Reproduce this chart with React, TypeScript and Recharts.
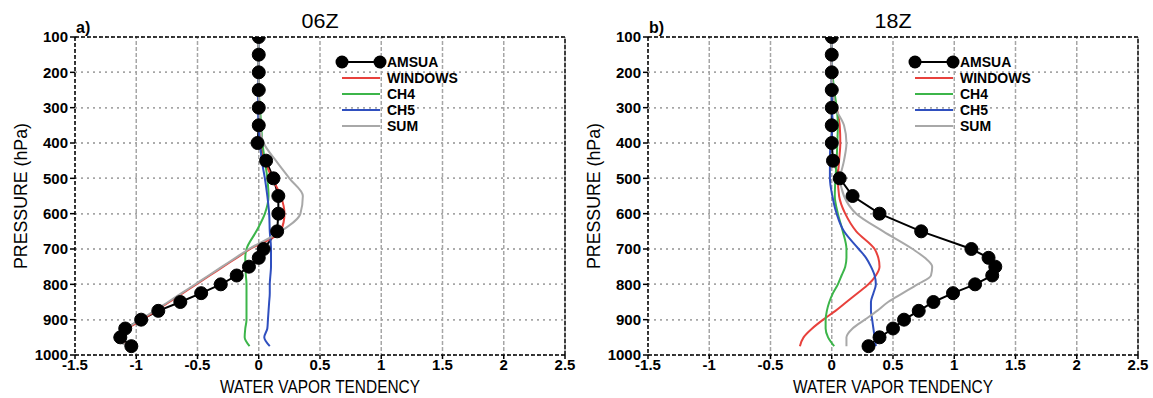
import React from 'react';
import { LineChart, Line, XAxis, YAxis, ReferenceLine, CartesianGrid } from 'recharts';

// Pressure levels (hPa)
const LEVELS = [100, 150, 200, 250, 300, 350, 400, 450, 500, 550, 600, 650, 700, 725, 750, 775, 800, 825, 850, 875, 900, 925, 950, 975];

// Panel a) 06Z
const AMSUA_06 = [0, 0, 0, 0, 0, 0, -0.01, 0.06, 0.12, 0.16, 0.16, 0.15, 0.04, 0.0, -0.08, -0.18, -0.31, -0.47, -0.64, -0.82, -0.96, -1.09, -1.13, -1.04];
const WINDOWS_06 = [0, 0, 0, 0, 0.005, 0.01, 0.02, 0.05, 0.11, 0.18, 0.21, 0.18, -0.07, -0.18, -0.29, -0.4, -0.51, -0.62, -0.73, -0.84, -0.95, -1.07, -1.15, -1.06];
const CH4_06 = [0, 0, 0, 0, 0.01, 0.02, 0.03, 0.05, 0.07, 0.08, 0.05, -0.02, -0.1, -0.11, -0.11, -0.105, -0.1, -0.1, -0.1, -0.1, -0.1, -0.11, -0.115, -0.075];
const CH5_06 = [0, 0, 0, -0.005, -0.005, 0, 0.01, 0.025, 0.05, 0.07, 0.085, 0.09, 0.1, 0.1, 0.1, 0.095, 0.09, 0.09, 0.085, 0.08, 0.075, 0.07, 0.045, 0.09];
const SUM_06 = [0, 0, 0, 0, 0.005, 0.01, 0.04, 0.14, 0.25, 0.36, 0.34, 0.18, -0.08, -0.19, -0.3, -0.41, -0.52, -0.63, -0.74, -0.85, -0.97, -1.08, -1.18, -1.06];

// Panel b) 18Z
const AMSUA_18 = [0, 0, 0, 0, 0, 0, 0, 0.01, 0.065, 0.17, 0.39, 0.73, 1.14, 1.28, 1.335, 1.31, 1.17, 0.99, 0.83, 0.71, 0.59, 0.5, 0.39, 0.3];
const WINDOWS_18 = [0, 0, 0, 0.01, 0.04, 0.065, 0.07, 0.06, 0.05, 0.06, 0.11, 0.2, 0.35, 0.38, 0.39, 0.36, 0.3, 0.21, 0.12, 0.03, -0.07, -0.16, -0.23, -0.26];
const CH4_18 = [0, 0, 0.005, 0.02, 0.04, 0.05, 0.045, 0.04, 0.03, 0.025, 0.05, 0.09, 0.12, 0.12, 0.11, 0.08, 0.05, 0.01, -0.02, -0.04, -0.05, -0.05, -0.03, 0.02];
const CH5_18 = [0, 0, 0, 0, 0, 0.01, -0.01, -0.015, -0.015, 0.005, 0.04, 0.1, 0.22, 0.28, 0.32, 0.35, 0.36, 0.34, 0.32, 0.32, 0.33, 0.34, 0.35, 0.36];
const SUM_18 = [0, 0, 0, 0.01, 0.03, 0.1, 0.12, 0.1, 0.07, 0.1, 0.2, 0.42, 0.66, 0.76, 0.82, 0.81, 0.7, 0.58, 0.46, 0.37, 0.27, 0.17, 0.12, 0.12];

const X_TICKS = [-1.5, -1, -0.5, 0, 0.5, 1, 1.5, 2, 2.5];
const Y_TICKS = [100, 200, 300, 400, 500, 600, 700, 800, 900, 1000];

const SERIES_NAMES = ['AMSUA', 'WINDOWS', 'CH4', 'CH5', 'SUM'];
const SERIES_COLORS = ['#000000', '#e8413c', '#3cb54a', '#2f4fbf', '#a8a8a8'];

const PANELS = [
  { left: 0, title: '06Z', letter: 'a)', series: [AMSUA_06, WINDOWS_06, CH4_06, CH5_06, SUM_06] },
  { left: 573, title: '18Z', letter: 'b)', series: [AMSUA_18, WINDOWS_18, CH4_18, CH5_18, SUM_18] },
];

const FONT = '"Liberation Sans", Arial, sans-serif';
const tickStyle = { fontSize: 15, fontWeight: 'bold', fill: '#000', fontFamily: FONT };
const border = { stroke: '#000', strokeWidth: 1.5, strokeDasharray: '4 2' };
const GRID_COLOR = '#a6a6a6';

function Panel({ panel }: { panel: any }) {
  const rows = LEVELS.map((p, i) => {
    const r: any = { p };
    SERIES_NAMES.forEach((n, k) => {
      r[n] = panel.series[k][i];
    });
    return r;
  });
  return (
    <div style={{ position: 'absolute', left: panel.left, top: 0 }}>
      <LineChart width={576} height={398} layout="vertical" data={rows} margin={{ top: 37, right: 11, bottom: 13, left: 0 }}>
        <CartesianGrid stroke={GRID_COLOR} strokeWidth={1.5} strokeDasharray="2 4" />
        <XAxis
          type="number"
          dataKey="AMSUA"
          domain={[-1.5, 2.5]}
          ticks={X_TICKS}
          allowDataOverflow
          height={30}
          tick={tickStyle}
          tickSize={4}
          tickMargin={0}
          tickLine={{ stroke: '#000', strokeWidth: 1.5 }}
          axisLine={border}
          interval={0}
        />
        <YAxis
          type="number"
          dataKey="p"
          domain={[100, 1000]}
          ticks={Y_TICKS}
          allowDataOverflow
          width={75}
          tick={tickStyle}
          tickSize={5}
          tickMargin={2}
          tickLine={{ stroke: '#000', strokeWidth: 1.5 }}
          axisLine={border}
          interval={0}
        />
        {X_TICKS.slice(1, -1).map((v) => (
          <ReferenceLine key={'gx' + v} x={v} stroke={GRID_COLOR} strokeWidth={1.5} strokeDasharray="2 4" />
        ))}
        {Y_TICKS.slice(1, -1).map((v) => (
          <ReferenceLine key={'gy' + v} y={v} stroke={GRID_COLOR} strokeWidth={1.5} strokeDasharray="2 4" />
        ))}
        <ReferenceLine y={100} {...border} ifOverflow="visible" />
        <ReferenceLine x={2.5} {...border} ifOverflow="visible" />
        {SERIES_NAMES.map((n, k) => (
          <Line
            key={n}
            dataKey={n}
            type={k === 0 ? 'linear' : 'monotone'}
            stroke={SERIES_COLORS[k]}
            strokeWidth={2}
            dot={k === 0 ? { r: 6.5, fill: '#000', stroke: '#000', strokeWidth: 1 } : false}
            activeDot={false}
            isAnimationActive={false}
          />
        ))}
      </LineChart>
      <svg width={576} height={398} style={{ position: 'absolute', left: 0, top: 0, pointerEvents: 'none' }}>
        <text x={320} y={28} textAnchor="middle" fontFamily={FONT} fontSize={20} textLength={37} lengthAdjust="spacingAndGlyphs">
          {panel.title}
        </text>
        <text x={76} y={33} fontFamily={FONT} fontSize={16} fontWeight="bold">
          {panel.letter}
        </text>
        <text
          x={0}
          y={0}
          transform="translate(27,196) rotate(-90)"
          textAnchor="middle"
          fontFamily={FONT}
          fontSize={18}
          textLength={146}
          lengthAdjust="spacingAndGlyphs"
        >
          PRESSURE (hPa)
        </text>
        <text x={320} y={393} textAnchor="middle" fontFamily={FONT} fontSize={19} textLength={200} lengthAdjust="spacingAndGlyphs">
          WATER VAPOR TENDENCY
        </text>
        {SERIES_NAMES.map((n, k) => {
          const y = 62 + k * 16;
          return (
            <g key={n}>
              <line x1={342} x2={380} y1={y} y2={y} stroke={SERIES_COLORS[k]} strokeWidth={2} />
              {k === 0 && <circle cx={342} cy={y} r={6.5} fill="#000" />}
              {k === 0 && <circle cx={380} cy={y} r={6.5} fill="#000" />}
              <text x={387} y={y + 5} fontFamily={FONT} fontSize={14} fontWeight="bold">
                {n}
              </text>
            </g>
          );
        })}
      </svg>
    </div>
  );
}

export default function App() {
  return (
    <div style={{ position: 'absolute', left: 0, top: 0, width: 1153, height: 398, background: '#fff', overflow: 'hidden' }}>
      {PANELS.map((p) => (
        <Panel key={p.title} panel={p} />
      ))}
    </div>
  );
}
